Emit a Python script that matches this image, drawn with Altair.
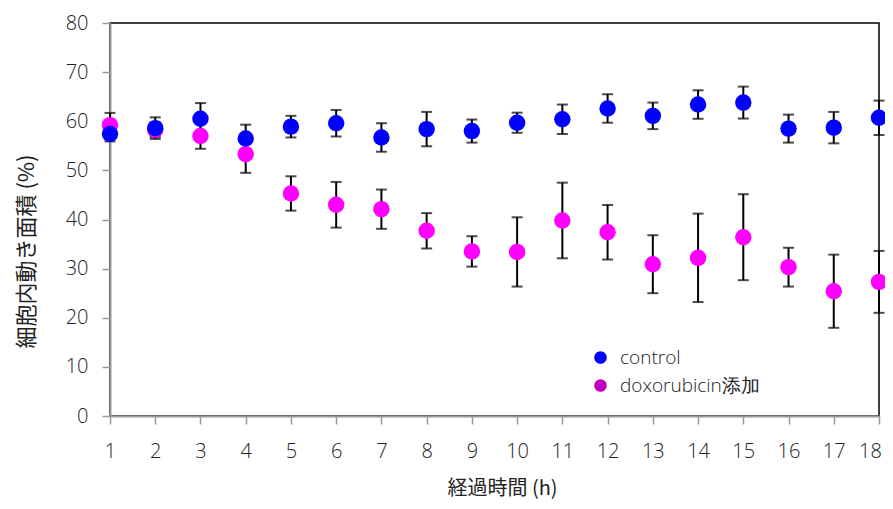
import altair as alt
import pandas as pd

hours = list(range(1, 19))
control_mean = [57.4, 58.6, 60.5, 56.5, 58.9, 59.6, 56.7, 58.4, 58.0, 59.7, 60.4, 62.6, 61.1, 63.4, 63.8, 58.5, 58.7, 60.7]
control_sd = [1.5, 2.2, 3.2, 2.8, 2.2, 2.7, 2.9, 3.5, 2.35, 2.05, 3.0, 2.9, 2.7, 2.9, 3.25, 2.85, 3.2, 3.5]
doxo_mean = [59.2, 58.3, 57.0, 53.3, 45.3, 43.0, 42.1, 37.7, 33.5, 33.4, 39.8, 37.4, 30.9, 32.2, 36.4, 30.3, 25.4, 27.3]
doxo_sd = [2.5, 1.5, 2.6, 3.8, 3.5, 4.65, 4.0, 3.6, 3.1, 7.05, 7.7, 5.55, 5.9, 9.0, 8.75, 3.95, 7.45, 6.3]
groups = ["control", "doxorubicin添加"]
point_colors = ["#0000FF", "#FF00FF"]
legend_colors = ["#0000FF", "#C000C0"]

rows = []
for g, means, sds in [(groups[0], control_mean, control_sd), (groups[1], doxo_mean, doxo_sd)]:
    for h, m, s in zip(hours, means, sds):
        rows.append({"h": h, "group": g, "mean": m, "lo": m - s, "hi": m + s})
df = pd.DataFrame(rows)

NUM_FONT = "Open Sans"
JP_FONT = "Noto Sans CJK JP"
TXT = "#222222"

xscale = alt.Scale(domain=[1, 18], nice=False, zero=False, padding=0)
yscale = alt.Scale(domain=[0, 80], nice=False, padding=0)

x = alt.X("h:Q", scale=xscale,
          axis=alt.Axis(values=hours, title="経過時間 (h)", format="d", grid=False, labelFlush=False,
                        labelOffset=alt.ExprRef("datum.value == 18 ? -9 : 0"),
                        domainColor="#999999", domainWidth=2, tickColor="#999999", tickWidth=1.5, tickSize=8,
                        labelFont=NUM_FONT, labelFontSize=20, labelFontWeight=300, labelColor=TXT,
                        labelPadding=17,
                        titleFont=JP_FONT, titleFontSize=20, titleFontWeight="normal", titleColor=TXT,
                        titlePadding=17, titleX=392))
y_axis = alt.Axis(values=list(range(0, 81, 10)), title="細胞内動き面積 (%)", grid=False, labelFlush=False,
                  domainColor="#999999", domainWidth=2, tickColor="#999999", tickWidth=1.5, tickSize=8,
                  labelFont=NUM_FONT, labelFontSize=20, labelFontWeight=300, labelColor=TXT,
                  labelPadding=14,
                  titleFont=JP_FONT, titleFontSize=22, titleFontWeight="normal", titleColor=TXT,
                  titlePadding=27, titleY=228)

base = alt.Chart(df)

bars = base.mark_rule(color="black", strokeWidth=2).encode(
    x=x, y=alt.Y("lo:Q", scale=yscale, axis=y_axis), y2="hi:Q")
caps_hi = base.mark_tick(color="black", thickness=2, size=11, orient="horizontal").encode(
    x=alt.X("h:Q", scale=xscale), y=alt.Y("hi:Q", scale=yscale))
caps_lo = base.mark_tick(color="black", thickness=2, size=11, orient="horizontal").encode(
    x=alt.X("h:Q", scale=xscale), y=alt.Y("lo:Q", scale=yscale))

points = base.mark_point(filled=True, size=270, opacity=1, shape="circle").encode(
    x=alt.X("h:Q", scale=xscale),
    y=alt.Y("mean:Q", scale=yscale),
    color=alt.Color("group:N", scale=alt.Scale(domain=groups, range=point_colors), legend=None),
    order=alt.Order("group:N", sort="descending"),
)

legend_layer = base.mark_point(filled=True, opacity=0).encode(
    x=alt.X("h:Q", scale=xscale),
    y=alt.Y("mean:Q", scale=yscale),
    fill=alt.Fill("group:N", scale=alt.Scale(domain=groups, range=legend_colors),
                  legend=alt.Legend(title=None, orient="none", legendX=481, legendY=325,
                                    symbolType="circle", symbolSize=160, symbolOpacity=1,
                                    symbolStrokeWidth=0,
                                    labelFont=NUM_FONT, labelFontSize=19, labelFontWeight=300,
                                    labelColor=TXT, labelOffset=10, rowPadding=8,
                                    padding=0)),
)

chart = alt.layer(bars, caps_hi, caps_lo, points, legend_layer).resolve_scale(
    color="independent", fill="independent"
).properties(
    width=769, height=393,
    autosize=alt.AutoSizeParams(type="none"),
    padding={"left": 102, "top": 15, "right": 6, "bottom": 85},
).configure_view(stroke="black", strokeWidth=1.5)

chart.save("out.html", embed_options={"renderer": "svg", "actions": False})
